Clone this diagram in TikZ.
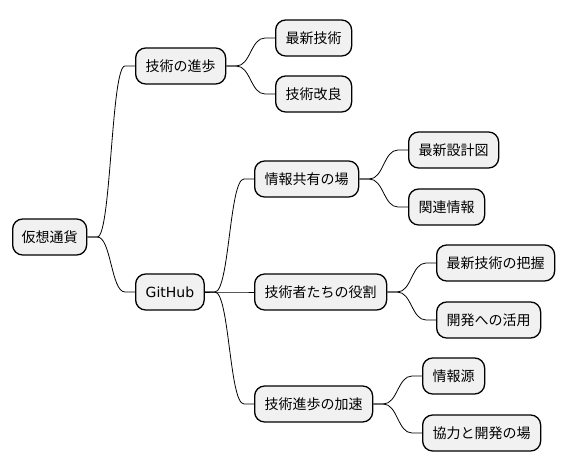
\documentclass[tikz,border=0pt]{standalone}
\usepackage{fontspec}
\setmainfont{Noto Sans CJK JP}
\newfontfamily\latinfont{DejaVu Sans}
\usetikzlibrary{calc}
\tikzset{
  mm/.style={draw=black, line width=1.3pt, fill=mmfill, rounded corners=10pt,
    minimum height=36pt, inner xsep=10pt, inner ysep=0pt, anchor=west,
    font=\fontsize{14pt}{16pt}\selectfont},
  conn/.style={line width=0.8pt, to path={let \p1=(\tikztostart), \p2=(\tikztotarget), \n1={(\x1+\x2)/2} in
    -- (\x1+10pt,\y1) .. controls (\n1,\y1) and (\n1,\y2) .. (\x2-10pt,\y2) -- (\tikztotarget)}}
}
\definecolor{mmfill}{HTML}{F1F1F1}
\begin{document}
\begin{tikzpicture}[x=1pt,y=-1pt]
\useasboundingbox (0,0) rectangle (565,471);
\node[mm, inner xsep=9pt] (root) at (12,237) {仮想通貨};
\node[mm] (n1) at (135,66) {技術の進歩};
\node[mm] (n11) at (275,38) {最新技術};
\node[mm] (n12) at (275,94) {技術改良};
\node[mm] (n2) at (135,292) {\latinfont GitHub};
\node[mm] (n21) at (254,179) {情報共有の場};
\node[mm] (n211) at (408,150) {最新設計図};
\node[mm] (n212) at (408,207) {関連情報};
\node[mm] (n22) at (254,292) {技術者たちの役割};
\node[mm] (n221) at (436,263) {最新技術の把握};
\node[mm] (n222) at (436,320) {開発への活用};
\node[mm] (n23) at (254,404) {技術進歩の加速};
\node[mm] (n231) at (422,376) {情報源};
\node[mm] (n232) at (422,433) {協力と開発の場};
\draw[conn] (root.east) to (n1.west);
\draw[conn] (root.east) to (n2.west);
\draw[conn] (n1.east) to (n11.west);
\draw[conn] (n1.east) to (n12.west);
\draw[conn] (n2.east) to (n21.west);
\draw[conn] (n2.east) to (n22.west);
\draw[conn] (n2.east) to (n23.west);
\draw[conn] (n21.east) to (n211.west);
\draw[conn] (n21.east) to (n212.west);
\draw[conn] (n22.east) to (n221.west);
\draw[conn] (n22.east) to (n222.west);
\draw[conn] (n23.east) to (n231.west);
\draw[conn] (n23.east) to (n232.west);
\end{tikzpicture}
\end{document}
